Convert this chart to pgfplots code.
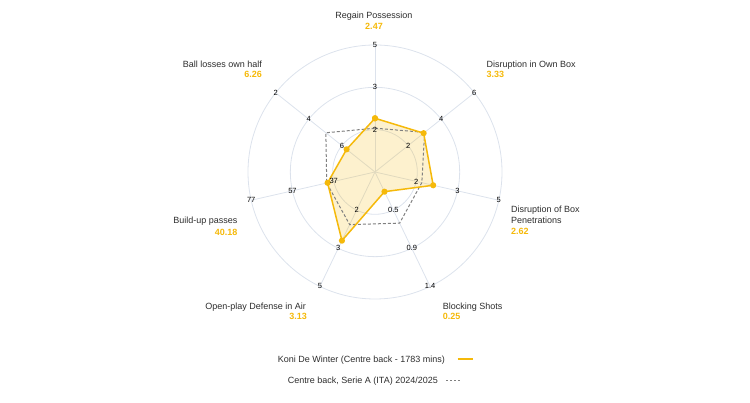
\documentclass[border=0pt]{standalone}
\usepackage{fontspec}
\setmainfont{Liberation Sans}
\usepackage{pgfplots}
\usepackage{pgfplotstable}
\pgfplotsset{compat=1.18}

\definecolor{gold}{RGB}{245,185,10}
\definecolor{gridc}{RGB}{220,226,236}
\definecolor{avgc}{RGB}{128,128,128}
\definecolor{txt}{RGB}{45,45,45}

% angle (deg), radius as share of the outer ring
\pgfplotstableread{
angle r
90 0.423
38.5714 0.49
-12.8571 0.47
-64.2857 0.172
-115.7143 0.60
-167.1429 0.383
141.4286 0.286
90 0.423
}\player

\pgfplotstableread{
angle r
90 0.345
38.5714 0.50
-12.8571 0.378
-64.2857 0.447
-115.7143 0.46
-167.1429 0.39
141.4286 0.495
90 0.345
}\average

\begin{document}
\begin{tikzpicture}[x=1pt,y=1pt]
\useasboundingbox (0,0) rectangle (750,403);

% rings and spokes
\begin{scope}[shift={(375,231)}]
  \foreach \r in {42.33,84.67,127}
    \draw[gridc, line width=0.8pt] (0,0) circle[radius=\r];
  \foreach \a in {90,38.5714,-12.8571,-64.2857,-115.7143,-167.1429,141.4286}
    \draw[gridc, line width=0.8pt] (0,0) -- (\a:127);
\end{scope}

\begin{axis}[
  at={(0,0)}, anchor=south west,
  scale only axis, width=750pt, height=403pt,
  xmin=-2.95276, xmax=2.95276,
  ymin=-1.81890, ymax=1.35433,
  hide axis, clip=false,
]
  \addplot[data cs=polar, draw=none, fill=gold, fill opacity=0.2]
    table[x=angle, y=r] {\player};
  \addplot[data cs=polar, draw=avgc, line width=1pt, dash pattern=on 3pt off 2pt]
    table[x=angle, y=r] {\average};
  \addplot[data cs=polar, draw=gold, line width=1.5pt, line join=round,
    mark=*, mark size=2.3pt, mark options={solid, fill=gold, draw=gold}]
    table[x=angle, y=r] {\player};
\end{axis}

% scale labels on the spokes
\begin{scope}[shift={(375,231)}, every node/.style={inner sep=0pt, text=black, font=\fontsize{7.5}{8}\selectfont}]
  \foreach \a/\p/\q/\s in {90/2/3/5, 38.5714/2/4/6, -12.8571/2/3/5,
      -64.2857/0.5/0.9/1.4, -115.7143/2/3/5, -167.1429/37/57/77, 141.4286/6/4/2} {
    \node at (\a:42.33) {\p};
    \node at (\a:84.67) {\q};
    \node at (\a:127) {\s};
  }
\end{scope}

% metric names and player values
\begin{scope}[every node/.style={inner sep=0pt, font=\fontsize{9}{11}\selectfont}]
  \node[anchor=base, text=txt] at (374,384) {Regain Possession};
  \node[anchor=base, text=gold, font=\fontsize{9}{11}\selectfont\bfseries] at (374,373.7) {2.47};

  \node[anchor=base west, text=txt] at (486.5,335.7) {Disruption in Own Box};
  \node[anchor=base west, text=gold, font=\fontsize{9}{11}\selectfont\bfseries] at (486.5,325.7) {3.33};

  \node[anchor=base west, text=txt] at (511,190.4) {Disruption of Box};
  \node[anchor=base west, text=txt] at (511,179) {Penetrations};
  \node[anchor=base west, text=gold, font=\fontsize{9}{11}\selectfont\bfseries] at (511,168) {2.62};

  \node[anchor=base west, text=txt] at (442.7,93) {Blocking Shots};
  \node[anchor=base west, text=gold, font=\fontsize{9}{11}\selectfont\bfseries] at (442.7,83) {0.25};

  \node[anchor=base east, text=txt] at (306,93) {Open-play Defense in Air};
  \node[anchor=base east, text=gold, font=\fontsize{9}{11}\selectfont\bfseries] at (307,83) {3.13};

  \node[anchor=base east, text=txt] at (237.5,179) {Build-up passes};
  \node[anchor=base east, text=gold, font=\fontsize{9}{11}\selectfont\bfseries] at (237.5,167.7) {40.18};

  \node[anchor=base east, text=txt] at (262,335.7) {Ball losses own half};
  \node[anchor=base east, text=gold, font=\fontsize{9}{11}\selectfont\bfseries] at (262,325.7) {6.26};

  % legend
  \node[anchor=base west, text=txt] at (277.7,40.4) {Koni De Winter (Centre back - 1783 mins)};
  \draw[gold, line width=2pt] (457.7,43.7) -- (472.7,43.7);
  \node[anchor=base west, text=txt] at (287.7,19) {Centre back, Serie A (ITA) 2024/2025};
  \draw[avgc, line width=1.2pt, dash pattern=on 1.5pt off 2.5pt] (446,22.3) -- (461,22.3);
\end{scope}
\end{tikzpicture}
\end{document}
